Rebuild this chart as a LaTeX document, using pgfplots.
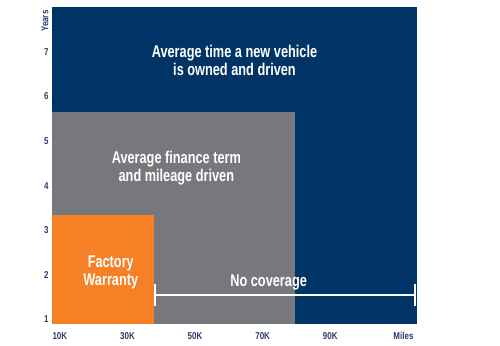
\documentclass[border=0pt]{standalone}
\usepackage{pgfplots}
\pgfplotsset{compat=1.18}
\usepackage{fontspec}
\setmainfont{Liberation Sans}
\newfontfamily\cond[FakeStretch=0.8]{Liberation Sans}
\newfontfamily\condb[FakeStretch=0.75]{Liberation Sans}
\definecolor{navy}{HTML}{003466}
\definecolor{cgray}{HTML}{77787B}
\definecolor{corange}{HTML}{F58025}
\definecolor{labc}{HTML}{2B3E6B}
\begin{document}
\begin{tikzpicture}
\begin{axis}[
  name=A,
  scale only axis,
  width=365pt, height=317pt,
  xmin=10, xmax=118, ymin=0.9, ymax=8,
  axis lines*=left,
  x axis line style={draw=none},
  y axis line style={draw=black!30, line width=0.8pt},
  xtick={10,30,50,70,90},
  xticklabels={10K,30K,50K,70K,90K},
  ytick={1,2,3,4,5,6,7},
  major tick length=0pt,
  x tick label style={anchor=north west, xshift=-3pt, yshift=-5pt, font=\cond\bfseries\fontsize{10}{11}\selectfont, text=labc},
  y tick label style={font=\cond\bfseries\fontsize{10}{11}\selectfont, text=labc},
  /pgf/number format/assume math mode=true,
  clip=false,
]
\addplot[fill=navy, draw=none] coordinates {(10,0.9) (117.9,0.9) (117.9,8) (10,8)};
\addplot[fill=cgray, draw=none] coordinates {(10,0.9) (82,0.9) (82,5.64) (10,5.64)};
\addplot[fill=corange, draw=none] coordinates {(10,0.9) (40.3,0.9) (40.3,3.34) (10,3.34)};
\addplot[white, line width=1.8pt] coordinates {(40.5,1.55) (117.3,1.55)};
\addplot[white, line width=1.8pt] coordinates {(40.5,1.30) (40.5,1.80)};
\addplot[white, line width=1.8pt] coordinates {(117.3,1.30) (117.3,1.80)};
\node[text=white, font=\condb\bfseries\fontsize{17}{18.5}\selectfont, align=center] at (axis cs:64.0,6.80) {Average time a new vehicle\\is owned and driven};
\node[text=white, font=\condb\bfseries\fontsize{17}{18.5}\selectfont, align=center] at (axis cs:46.8,4.39) {Average finance term\\and mileage driven};
\node[text=white, font=\condb\bfseries\fontsize{17}{18.5}\selectfont, align=center] at (axis cs:27.4,2.05) {Factory\\Warranty};
\node[text=white, font=\condb\bfseries\fontsize{17}{18.5}\selectfont] at (axis cs:74.1,1.82) {No coverage};
\node[rotate=90, anchor=east, text=labc, font=\cond\bfseries\fontsize{10}{11}\selectfont] at ([xshift=-7pt]rel axis cs:0,1) {Years};
\node[anchor=north east, text=labc, font=\cond\bfseries\fontsize{10}{11}\selectfont, inner sep=3.33pt] at ([yshift=-5pt]rel axis cs:1,0) {Miles};
\end{axis}
\path ([xshift=-52pt,yshift=-22pt]A.south west) rectangle ([xshift=83pt,yshift=7pt]A.north east);
\end{tikzpicture}
\end{document}
